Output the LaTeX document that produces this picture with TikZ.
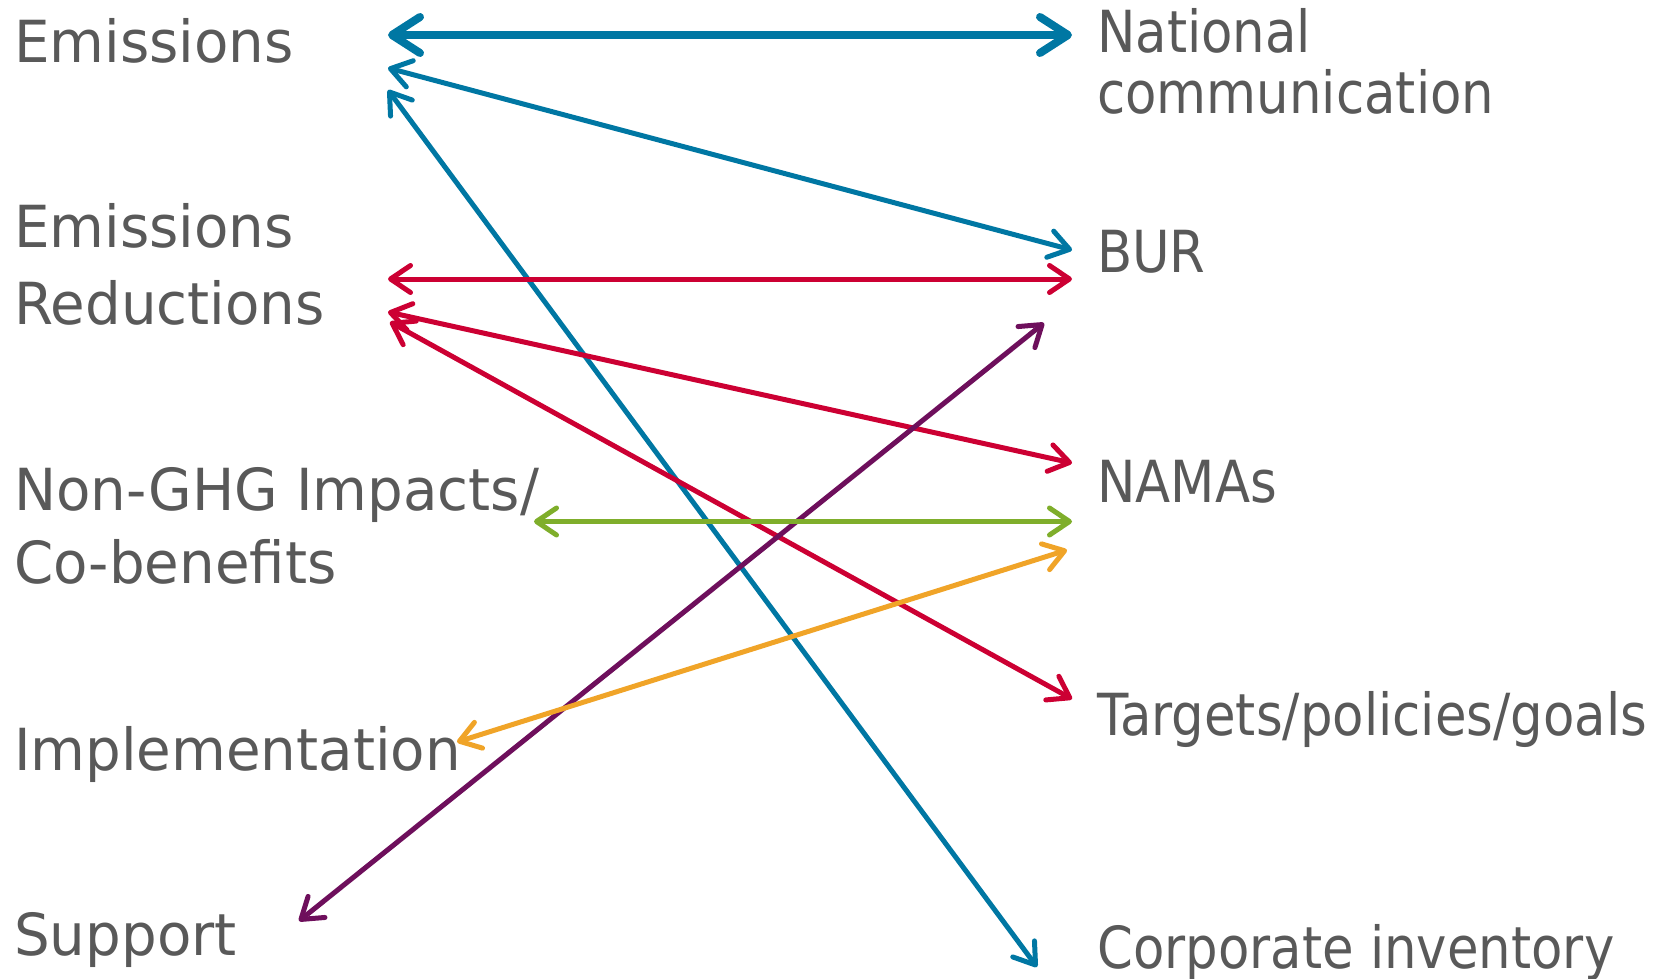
\documentclass[tikz,border=0pt]{standalone}
\usepackage{fontspec}
\setmainfont{DejaVu Sans}[FakeStretch=0.9]
\newfontfamily\leftfont{DejaVu Sans}[FakeStretch=0.97]
\newfontfamily\rightfont{DejaVu Sans}[FakeStretch=0.885]
\usetikzlibrary{arrows.meta}
\definecolor{txt}{HTML}{595959}
\definecolor{cblue}{HTML}{0077A3}
\definecolor{cred}{HTML}{CC0033}
\definecolor{cpurple}{HTML}{6E0F5C}
\definecolor{cgreen}{HTML}{7FAE2B}
\definecolor{corange}{HTML}{F0A428}
\tikzset{
  lbl/.style={anchor=base west, inner sep=0pt, text=txt, font=\leftfont\fontsize{58}{70}\selectfont},
  rlbl/.style={anchor=base west, inner sep=0pt, text=txt, font=\rightfont\fontsize{58}{70}\selectfont},
  barb/.tip={Straight Barb[length=20pt, width=27pt, line cap=round, line join=round]},
  bigbarb/.tip={Straight Barb[length=28pt, width=36pt, line cap=round, line join=round]},
  link/.style={line width=5pt, line cap=round, barb-barb},
  biglink/.style={line width=8pt, line cap=round, bigbarb-bigbarb}
}
\begin{document}
\begin{tikzpicture}[x=1pt, y=-1pt]
\useasboundingbox (0,0) rectangle (1673,979);
% left texts
\node[lbl] (em) at (14,63) {Emissions};
\node[lbl] (er1) at (14,247) {Emissions};
\node[lbl] (er2) at (14,324) {Reductions};
\node[lbl] (ng1) at (14,510) {Non-GHG Impacts/};
\node[lbl] (ng2) at (14,583) {Co-benefits};
\node[lbl] (impl) at (14,770) {Implementation};
\node[lbl] (sup) at (14,955) {Support};
% right texts
\node[rlbl] (nc1) at (1097,53) {National};
\node[rlbl] (nc2) at (1097,114) {communication};
\node[rlbl] (bur) at (1097,272) {BUR};
\node[rlbl] (nama) at (1097,502) {NAMAs};
\node[rlbl] (tpg) at (1097,735) {Targets/policies/goals};
\node[rlbl] (corp) at (1097,968) {Corporate inventory};
% arrow ends
\coordinate (a1l) at (388,35);  \coordinate (a1r) at (1072,35);
\coordinate (a2l) at (388,68);  \coordinate (a2r) at (1072,250);
\coordinate (a3l) at (388,90);  \coordinate (a3r) at (1037,967);
\coordinate (a4l) at (388,279); \coordinate (a4r) at (1072,279);
\coordinate (a5l) at (388,312); \coordinate (a5r) at (1072,463);
\coordinate (a6l) at (390,322); \coordinate (a6r) at (1072,699);
\coordinate (a7l) at (299,921); \coordinate (a7r) at (1044,323);
\coordinate (a8l) at (534,521.5); \coordinate (a8r) at (1072,521.5);
\coordinate (a9l) at (457,742); \coordinate (a9r) at (1067,550);
% arrows
\draw[biglink, cblue] (a1l) -- (a1r);
\draw[link, cblue] (a2l) -- (a2r);
\draw[link, cblue] (a3l) -- (a3r);
\draw[link, cred] (a4l) -- (a4r);
\draw[link, cred] (a5l) -- (a5r);
\draw[link, cred] (a6l) -- (a6r);
\draw[link, cpurple] (a7l) -- (a7r);
\draw[link, cgreen] (a8l) -- (a8r);
\draw[link, corange] (a9l) -- (a9r);
\end{tikzpicture}
\end{document}
